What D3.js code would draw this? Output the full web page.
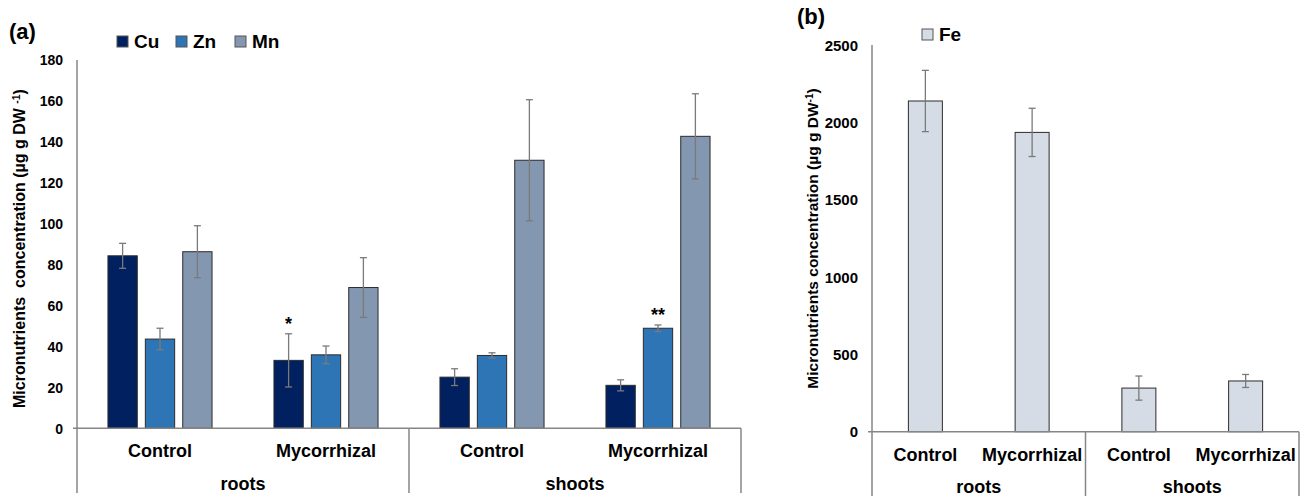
<!DOCTYPE html>
<html>
<head>
<meta charset="utf-8">
<script src="https://cdn.jsdelivr.net/npm/d3@7"></script>
<style>
  body { margin: 0; background: #fff; }
  svg text { font-family: "Liberation Sans", Arial, sans-serif; font-weight: bold; fill: #000; white-space: pre; }
</style>
</head>
<body>
<svg id="chart" width="1312" height="496"></svg>
<script>
// categories (two-level axis)
const categories = ["Control", "Mycorrhizal", "Control", "Mycorrhizal"];
const groups = ["roots", "roots", "shoots", "shoots"];

// panel (a) series, µg g DW-1
const seriesA = ["Cu", "Zn", "Mn"];
const cuMean = [84.3, 33.2, 25.0, 21.0];
const cuErr  = [6.1, 13.0, 4.1, 2.7];
const cuSig  = ["", "*", "", ""];
const znMean = [43.6, 35.9, 35.6, 48.9];
const znErr  = [5.3, 4.3, 1.3, 1.6];
const znSig  = ["", "", "", "**"];
const mnMean = [86.3, 68.8, 131.0, 142.7];
const mnErr  = [12.7, 14.6, 29.6, 20.8];
const mnSig  = ["", "", "", ""];
const ticksA = [0, 20, 40, 60, 80, 100, 120, 140, 160, 180];

// panel (b) series
const seriesB = ["Fe"];
const feMean = [2138, 1935, 282, 328];
const feErr  = [198, 156, 78, 42];
const feSig  = ["", "", "", ""];
const ticksB = [0, 500, 1000, 1500, 2000, 2500];

const colors = { Cu: "#002060", Zn: "#2E75B6", Mn: "#8497B0", Fe: "#D6DCE5" };
const axisColor = "#868686";
const errColor = "#7a7a7a";

const keys = categories.map((c, i) => groups[i] + "|" + c);
const svg = d3.select("#chart");

function drawPanel(opt) {
  const g = svg.append("g");
  const { left, right, top, base, bottom } = opt;

  const y = d3.scaleLinear().domain([0, d3.max(opt.ticks)]).range([base, top]);

  const x0 = d3.scaleBand().domain(keys).range([left, right])
    .paddingInner(opt.padIn).paddingOuter(opt.padIn / 2);
  const x1 = d3.scaleBand().domain(opt.series.map(s => s.name))
    .range([0, x0.bandwidth()]).paddingInner(opt.series.length > 1 ? 0.216 : 0);

  // y tick labels
  g.append("g")
    .attr("transform", `translate(${left},0)`)
    .call(d3.axisLeft(y).tickValues(opt.ticks).tickFormat(d3.format("d"))
      .tickSize(0).tickPadding(left - opt.labelRight))
    .call(a => a.select(".domain").remove())
    .selectAll("text")
    .style("font-size", opt.tickFont + "px")
    .attr("dy", "0.35em");

  // bars
  opt.series.forEach(s => {
    const rows = keys.map((k, i) => ({ k, v: s.mean[i], e: s.err[i], sig: s.sig[i] }));
    const sg = g.append("g");
    sg.selectAll("rect").data(rows).enter().append("rect")
      .attr("x", d => x0(d.k) + x1(s.name))
      .attr("y", d => y(d.v))
      .attr("width", x1.bandwidth())
      .attr("height", d => y(0) - y(d.v))
      .attr("fill", colors[s.name])
      .attr("stroke", "#2b2b2b")
      .attr("stroke-width", 1);

    const cx = d => x0(d.k) + x1(s.name) + x1.bandwidth() / 2;
    const eb = sg.selectAll(".eb").data(rows).enter().append("g")
      .attr("stroke", errColor).attr("stroke-width", 1.3);
    eb.append("line").attr("x1", cx).attr("x2", cx)
      .attr("y1", d => y(d.v + d.e)).attr("y2", d => y(d.v - d.e));
    eb.append("line").attr("x1", d => cx(d) - 3.5).attr("x2", d => cx(d) + 3.5)
      .attr("y1", d => y(d.v + d.e)).attr("y2", d => y(d.v + d.e));
    eb.append("line").attr("x1", d => cx(d) - 3.5).attr("x2", d => cx(d) + 3.5)
      .attr("y1", d => y(d.v - d.e)).attr("y2", d => y(d.v - d.e));

    sg.selectAll(".sig").data(rows.filter(d => d.sig)).enter().append("text")
      .attr("x", cx)
      .attr("y", d => y(d.v + d.e) - 4)
      .attr("text-anchor", "middle")
      .style("font-size", "18px")
      .text(d => d.sig);
  });

  // axis lines
  const ln = (x1_, y1_, x2_, y2_) => g.append("line")
    .attr("x1", x1_).attr("y1", y1_).attr("x2", x2_).attr("y2", y2_)
    .attr("stroke", axisColor).attr("stroke-width", 1.5);
  ln(left, top, left, bottom);
  ln(left - 4, base, right, base);
  const nGroups = 2;
  const per = keys.length / nGroups;
  for (let i = 1; i <= nGroups; i++) {
    const gx = left + i * per * x0.step();
    ln(gx, base, gx, bottom);
  }

  // category labels
  g.append("g")
    .attr("transform", `translate(0,${base})`)
    .call(d3.axisBottom(x0).tickSize(0).tickPadding(0).tickFormat(k => k.split("|")[1]))
    .call(a => a.select(".domain").remove())
    .selectAll("text")
    .attr("dy", null)
    .attr("y", opt.catY - base)
    .style("font-size", "18px");

  // group labels
  d3.groups(keys, k => k.split("|")[0]).forEach(([grp, ks]) => {
    const cx = (x0(ks[0]) + x0(ks[ks.length - 1]) + x0.bandwidth()) / 2;
    g.append("text").attr("x", cx).attr("y", opt.grpY)
      .attr("text-anchor", "middle").style("font-size", "18px").text(grp);
  });

  // y title
  const t = g.append("text")
    .attr("transform", `translate(${opt.titleX},${opt.titleY}) rotate(-90)`)
    .attr("text-anchor", "middle")
    .style("font-size", opt.titleFont + "px");
  t.append("tspan").text(opt.titleText);
  t.append("tspan").attr("dy", "-0.45em").style("font-size", "0.65em").text(opt.titleSup);
  t.append("tspan").attr("dy", "0.29em").text(")");

  // panel tag
  g.append("text").attr("x", opt.tagX).attr("y", opt.tagY)
    .style("font-size", "22px").text(opt.tag);

  // legend
  opt.series.forEach((s, i) => {
    const lx = opt.legX + i * 59;
    g.append("rect").attr("x", lx).attr("y", opt.legY)
      .attr("width", 11).attr("height", 11)
      .attr("fill", colors[s.name]).attr("stroke", "#555").attr("stroke-width", 1);
    g.append("text").attr("x", lx + 17).attr("y", opt.legY + 12)
      .style("font-size", "19px").text(s.name);
  });
}

drawPanel({
  series: [
    { name: seriesA[0], mean: cuMean, err: cuErr, sig: cuSig },
    { name: seriesA[1], mean: znMean, err: znErr, sig: znSig },
    { name: seriesA[2], mean: mnMean, err: mnErr, sig: mnSig }
  ],
  ticks: ticksA,
  left: 77, right: 741, top: 60, base: 428.3, bottom: 493,
  padIn: 0.373, labelRight: 63, tickFont: 14,
  catY: 457.5, grpY: 490,
  titleX: 25, titleY: 248.5, titleFont: 16,
  titleText: "Micronutrients  concentration (µg g DW ", titleSup: "-1",
  tag: "(a)", tagX: 9, tagY: 39,
  legX: 117, legY: 36
});

drawPanel({
  series: [{ name: seriesB[0], mean: feMean, err: feErr, sig: feSig }],
  ticks: ticksB,
  left: 872, right: 1299, top: 45, base: 431.7, bottom: 496,
  padIn: 0.6815, labelRight: 858, tickFont: 15,
  catY: 461, grpY: 493,
  titleX: 818, titleY: 238.5, titleFont: 15.5,
  titleText: "Micronutrients concentration (µg g DW", titleSup: "-1",
  tag: "(b)", tagX: 797, tagY: 24,
  legX: 922, legY: 29
});
</script>
</body>
</html>
